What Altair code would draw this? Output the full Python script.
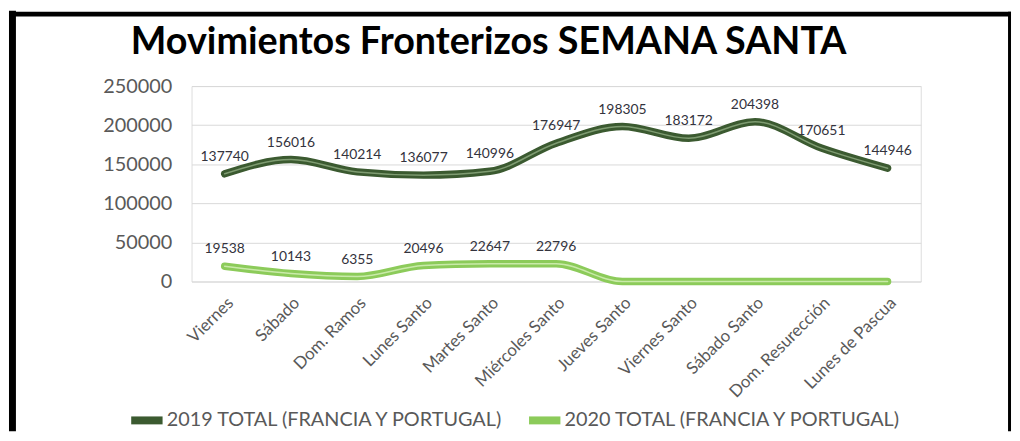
import altair as alt
import pandas as pd

days = ["Viernes", "Sábado", "Dom. Ramos", "Lunes Santo", "Martes Santo",
        "Miércoles Santo", "Jueves Santo", "Viernes Santo", "Sábado Santo",
        "Dom. Resurección", "Lunes de Pascua"]
v2019 = [137740, 156016, 140214, 136077, 140996, 176947, 198305, 183172, 204398, 170651, 144946]
v2020 = [19538, 10143, 6355, 20496, 22647, 22796, 0, 0, 0, 0, 0]
series = ["2019 TOTAL (FRANCIA Y PORTUGAL)", "2020 TOTAL (FRANCIA Y PORTUGAL)"]
y_ticks = [0, 50000, 100000, 150000, 200000, 250000]

outer_colors = ["#3b5a30", "#8ccb5a"]
inner_colors = ["#7f9c72", "#c9eaa9"]

rows = []
for s, vals in zip(series, [v2019, v2020]):
    for i, (d, v) in enumerate(zip(days, vals)):
        rows.append({"day": d, "order": i, "series": s, "value": v})
df = pd.DataFrame(rows)

FONT = "Lato"

x_enc = alt.X("day:N", sort=days, scale=alt.Scale(padding=0.5),
              axis=alt.Axis(title=None, labelAngle=-45, labelFontSize=17,
                            labelFont=FONT, labelColor="#595959",
                            ticks=False, domain=False, grid=False, labelPadding=13))
y_enc = alt.Y("value:Q", scale=alt.Scale(domain=[0, 250000], nice=False),
              axis=alt.Axis(title=None, values=y_ticks, format="d", labelFontSize=20,
                            labelFont=FONT, labelColor="#595959",
                            ticks=False, domain=False, gridColor="#d9d9d9",
                            labelPadding=20))

base = alt.Chart(df).encode(x=x_enc, y=y_enc, order="order:Q")

outer = base.mark_line(strokeWidth=7.5, interpolate="monotone", strokeCap="round").encode(
    color=alt.Color("series:N", scale=alt.Scale(domain=series, range=outer_colors),
                    legend=alt.Legend(title=None, orient="none", legendX=-65, legendY=317,
                                      direction="horizontal", symbolType="stroke",
                                      symbolStrokeWidth=8, symbolSize=1000,
                                      labelFontSize=20, labelFont=FONT,
                                      labelColor="#595959", columnPadding=8, labelOffset=0,
                                      labelLimit=500))
)
inner = base.mark_line(strokeWidth=1.5, interpolate="monotone", strokeCap="round").encode(
    stroke=alt.Stroke("series:N", scale=alt.Scale(domain=series, range=inner_colors), legend=None)
)
labels = base.mark_text(dy=-17, fontSize=14, font=FONT, color="#33333d").encode(
    text=alt.Text("value:Q", format="d")
).transform_filter(alt.datum.value > 0)

frame_df = pd.DataFrame({"k": [0]})
left = alt.Chart(frame_df).mark_rule(color="black", strokeWidth=7).encode(
    x=alt.value(-180.5), y=alt.value(-76), y2=alt.value(348))
top = alt.Chart(frame_df).mark_rule(color="black", strokeWidth=5).encode(
    x=alt.value(-184), x2=alt.value(826), y=alt.value(-72.5))
right = alt.Chart(frame_df).mark_rule(color="black", strokeWidth=3).encode(
    x=alt.value(824.5), y=alt.value(-75), y2=alt.value(348))

chart = alt.layer(outer, inner, labels, left, top, right).properties(
    width=735, height=197,
    title=alt.TitleParams("Movimientos Fronterizos SEMANA SANTA",
                          font=FONT, fontSize=38, fontWeight="bold",
                          color="black", anchor="middle", frame="group", dx=-68, offset=-55),
    autosize=alt.AutoSizeParams(type="none"),
    padding={"left": 185, "top": 77, "right": 92, "bottom": 151},
).configure_view(stroke="transparent", strokeWidth=0).configure(background="white")

chart.save("out.html", embed_options={"renderer": "svg", "actions": False})
